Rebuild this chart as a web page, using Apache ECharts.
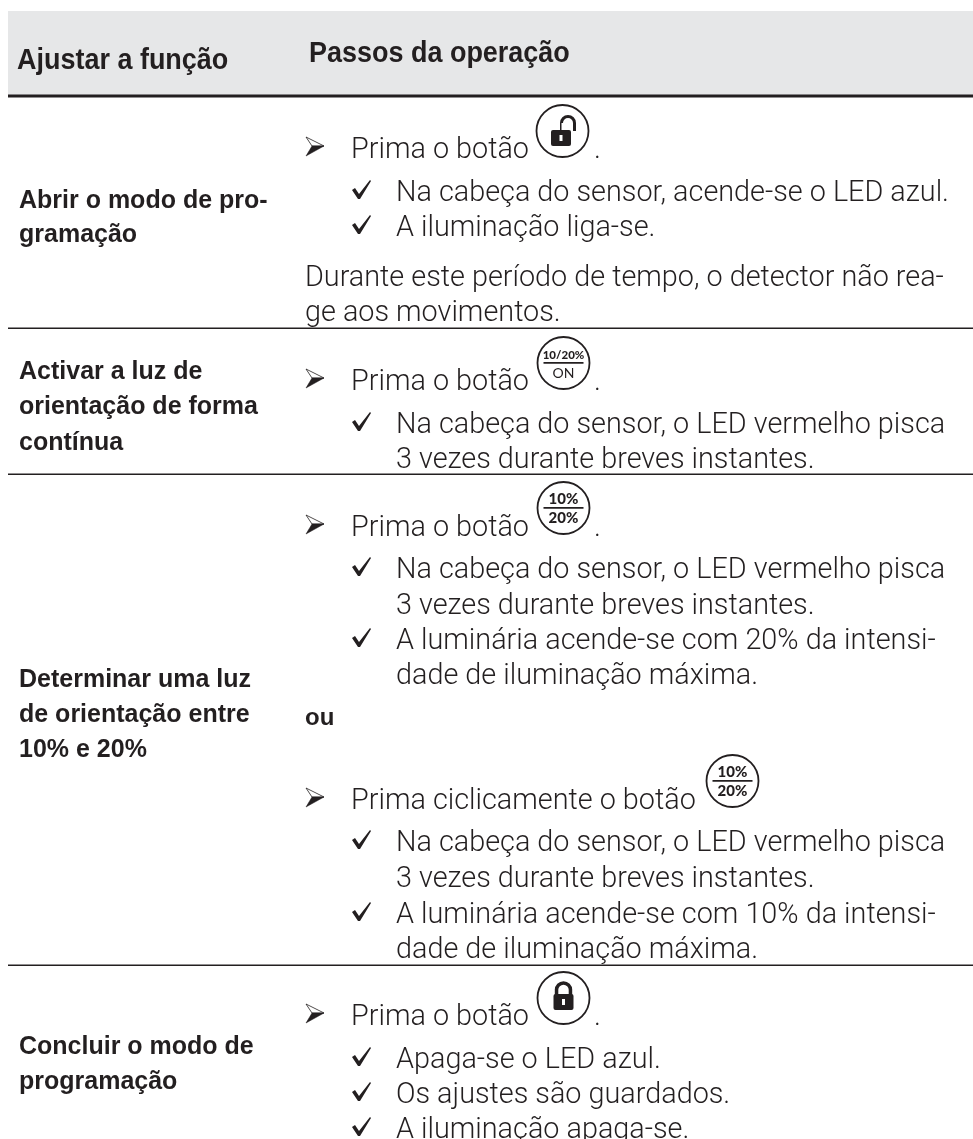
<!DOCTYPE html>
<html><head><meta charset="utf-8">
<style>html,body{margin:0;padding:0;background:#fff}#c{width:973px;height:1139px}</style>
<script src="https://cdn.jsdelivr.net/npm/echarts@6/dist/echarts.min.js"></script>
</head><body><div id="c"></div>
<script>
const headers = ["Ajustar a função", "Passos da operação"];
const rowLabels = [
  ["Abrir o modo de pro-", "gramação"],
  ["Activar a luz de", "orientação de forma", "contínua"],
  ["Determinar uma luz", "de orientação entre", "10% e 20%"],
  ["Concluir o modo de", "programação"]
];
const stepTexts = [
  "Prima o botão", "Na cabeça do sensor, acende-se o LED azul.", "A iluminação liga-se.",
  "Durante este período de tempo, o detector não rea-", "ge aos movimentos.",
  "Prima o botão", "Na cabeça do sensor, o LED vermelho pisca", "3 vezes durante breves instantes.",
  "Prima o botão", "Na cabeça do sensor, o LED vermelho pisca", "3 vezes durante breves instantes.",
  "A luminária acende-se com 20% da intensi-", "dade de iluminação máxima.",
  "Prima ciclicamente o botão", "Na cabeça do sensor, o LED vermelho pisca", "3 vezes durante breves instantes.",
  "A luminária acende-se com 10% da intensi-", "dade de iluminação máxima.",
  "Prima o botão", "Apaga-se o LED azul.", "Os ajustes são guardados.", "A iluminação apaga-se."
];
const stepKinds = ["a","c","c","p","p","a","c","i","a","c","i","c","i","a","c","i","c","i","a","c","c","c"];
const stepBaselines = [157,200,235,285,320,389,432,467,535,577,613,648,683,808,850,886,922,957,1024,1067,1102,1137];
const orWord = "ou";
const iconTexts = {narrow:["10/20%","ON"], percent:["10%","20%"]};

const BODY = "Roboto", ICON = "Lato", HEAD = "Liberation Sans", INK = "#231f20";
const BODY_SIZE = 28.8, BODY_WEIGHT = 300;
const MID = {Lato:0.31, Roboto:0.21, "Liberation Sans":0.31};
const g = [];
function text(x, base, s, font, size, weight, extra, props) {
  g.push(Object.assign({type:'text', x, y:base-MID[font]*size, silent:true, style:Object.assign({text:s, fontFamily:font, fontSize:size, fontWeight:weight, fill:INK, verticalAlign:'middle'}, extra||{})}, props||{}));
}
function line(x1,y,x2,w){ g.push({type:'rect', shape:{x:x1,y:y,width:x2-x1,height:w}, style:{fill:INK}, silent:true}); }
function poly(points, style){ g.push({type:'polygon', shape:{points}, style, silent:true}); }
function body(x,y,s){ text(x,y,s,BODY,BODY_SIZE,BODY_WEIGHT); }

g.push({type:'rect', shape:{x:8,y:11,width:965,height:85}, style:{fill:'#e6e7e8'}, silent:true});
line(8,94.5,973,3); line(8,327.5,973,1.5); line(8,473.5,973,1.5); line(8,964.5,973,1.5);

text(17,70,headers[0],HEAD,29,'bold',null,{scaleX:0.93});
text(309,63,headers[1],HEAD,29,'bold',null,{scaleX:0.93});

const labelBase = [[209,243],[380,415,451],[688,723,758],[1055,1090]];
rowLabels.forEach((r,i)=>r.forEach((s,j)=>text(19,labelBase[i][j],s,HEAD,25,'bold')));
text(305,726,orWord,HEAD,24,'bold');

function arrow(x,y){
  poly([[x,y-20],[x+18,y-11],[x+6,y-11]],{fill:'#fff',stroke:INK,lineWidth:0.8});
  poly([[x,y-1],[x+18,y-11],[x+6,y-11]],{fill:INK,stroke:INK,lineWidth:0.5});
}
function check(x,y){
  poly([[x,y-10],[x+3,y-12],[x+7,y-6],[x+18,y-20],[x+19,y-19],[x+8,y-1],[x+6,y-1]],{fill:INK});
}
stepTexts.forEach((s,i)=>{
  const k = stepKinds[i], y = stepBaselines[i];
  if (k==='a') { arrow(306,y); body(351,y,s); }
  else if (k==='c') { check(352,y); body(396,y,s); }
  else if (k==='i') { body(396,y,s); }
  else body(305,y,s);
});

function ring(cx,cy){ g.push({type:'circle', shape:{cx,cy,r:26}, style:{fill:'#fff',stroke:INK,lineWidth:1.8}, silent:true}); }
function lock(cx,cy,open){
  g.push({type:'rect', shape:{x:cx-10,y:cy-4,width:20,height:16,r:2}, style:{fill:INK}, silent:true});
  g.push({type:'rect', shape:{x:cx-1.5,y:cy+1,width:3,height:6}, style:{fill:'#fff'}, silent:true});
  if(open){
    g.push({type:'arc', shape:{cx:cx+7,cy:cy-11,r:6.5,startAngle:Math.PI,endAngle:0}, style:{fill:null,stroke:INK,lineWidth:3}, silent:true});
    line(cx-1,cy-11,cx+0.5,8); line(cx+12,cy-11,cx+15,8);
  } else {
    g.push({type:'arc', shape:{cx:cx,cy:cy-8,r:7,startAngle:Math.PI,endAngle:0}, style:{fill:null,stroke:INK,lineWidth:3.5}, silent:true});
    line(cx-8.7,cy-8,cx-5.2,5); line(cx+5.2,cy-8,cx+8.7,5);
  }
}
function frac(cx,cy,a,b,s1,w1,s2,w2){
  text(cx,cy-4,a,ICON,s1,w1,{align:'center'});
  line(cx-20,cy-1,cx+20,1.8);
  text(cx,cy+15,b,ICON,s2,w2,{align:'center'});
}
ring(562.5,131); lock(561,134,true);
ring(563.5,363); frac(563.5,363,iconTexts.narrow[0],iconTexts.narrow[1],11.5,900,14,400);
ring(563.5,508); frac(563.5,508,iconTexts.percent[0],iconTexts.percent[1],15,900,15,900);
ring(732.5,781); frac(732.5,781,iconTexts.percent[0],iconTexts.percent[1],15,900,15,900);
ring(563.5,998); lock(563.5,998,false);
[157,389,535,1024].forEach(y=>body(594,y,'.'));

const chart = echarts.init(document.getElementById('c'),null,{renderer:'canvas'});
chart.setOption({animation:false,graphic:{elements:g}});
</script></body></html>
